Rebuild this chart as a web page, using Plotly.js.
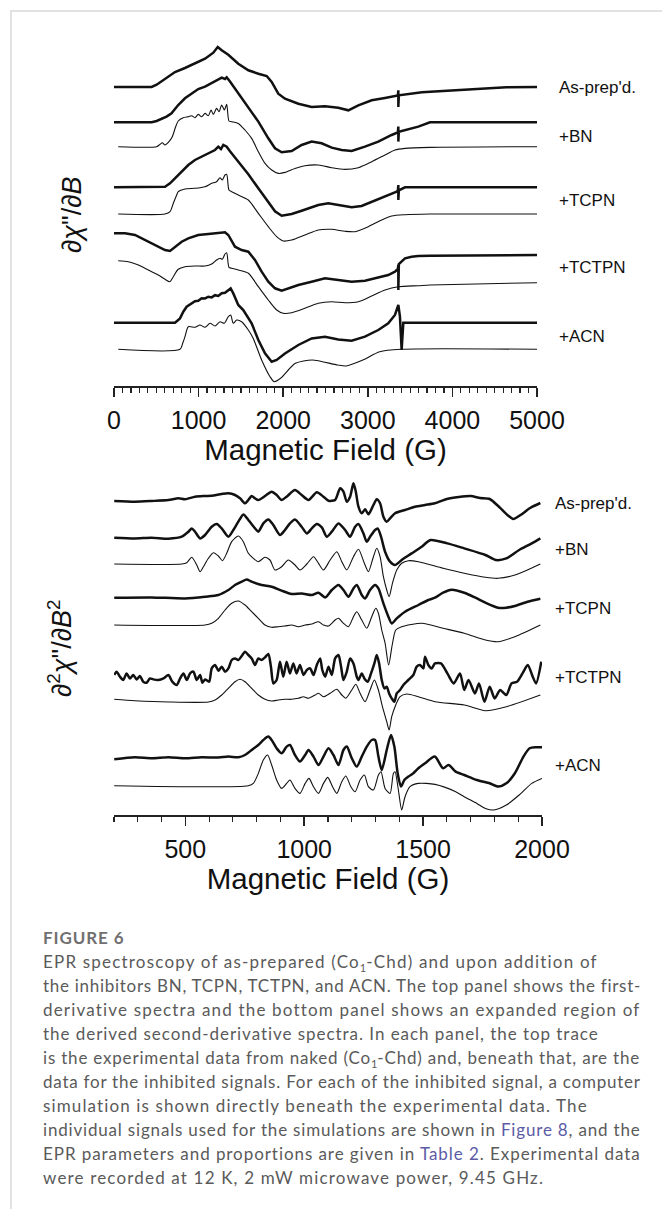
<!DOCTYPE html>
<html>
<head>
<meta charset="utf-8">
<script src="https://cdn.plot.ly/plotly-3.0.1.min.js"></script>
<style>
html,body{margin:0;padding:0;background:#fff;}
#wrap{position:relative;width:662px;height:1209px;overflow:hidden;background:#fff;}
#frame{position:absolute;left:10px;top:10px;right:-5px;bottom:-5px;border-top:2px solid #e2e2e2;border-left:2px solid #e2e2e2;}
#chart{position:absolute;left:0;top:0;width:662px;height:1209px;}
#cap{position:absolute;left:43px;top:926px;width:600px;font-family:Lato,"Noto Sans",sans-serif;color:#5a5a5a;}
#cap .fig{font-size:17px;font-weight:700;color:#707070;line-height:24px;letter-spacing:0.9px;}
#cap .ln{font-size:17px;line-height:24px;height:24px;white-space:nowrap;}
#cap .ln span{display:inline-block;}
#cap a{color:#5b5ba6;text-decoration:none;}
#cap .sb{font-size:11px;position:relative;top:4px;letter-spacing:0;}
</style>
</head>
<body>
<div id="wrap">
<div id="frame"></div>
<div id="chart"></div>
<div id="cap">
<div class="fig">FIGURE 6</div>
<div class="ln" data-w="555"><span>EPR spectroscopy of as-prepared (Co<span class="sb">1</span>-Chd) and upon addition of</span></div>
<div class="ln" data-w="597"><span>the inhibitors BN, TCPN, TCTPN, and ACN. The top panel shows the first-</span></div>
<div class="ln" data-w="596"><span>derivative spectra and the bottom panel shows an expanded region of</span></div>
<div class="ln" data-w="555"><span>the derived second-derivative spectra. In each panel, the top trace</span></div>
<div class="ln" data-w="597"><span>is the experimental data from naked (Co<span class="sb">1</span>-Chd) and, beneath that, are the</span></div>
<div class="ln" data-w="597"><span>data for the inhibited signals. For each of the inhibited signal, a computer</span></div>
<div class="ln" data-w="544"><span>simulation is shown directly beneath the experimental data. The</span></div>
<div class="ln" data-w="597"><span>individual signals used for the simulations are shown in <a>Figure 8</a>, and the</span></div>
<div class="ln" data-w="597"><span>EPR parameters and proportions are given in <a>Table 2</a>. Experimental data</span></div>
<div class="ln" data-w="500"><span>were recorded at 12 K, 2 mW microwave power, 9.45 GHz.</span></div>
</div>
</div>
<script>
// ---------- sample names ----------
const sampleLabels = ["As-prep'd.", "+BN", "+TCPN", "+TCTPN", "+ACN"];

// ---------- TOP PANEL: first derivative, field (G) and intensity (arb.) ----------
const topG_asprep = [0,445,504,603,721,839,957,1076,1174,1226,1273,1351,1469,1588,1706,1805,1864,1942,2021,2179,2336,2494,2651,2770,2888,3046,3203,3355,3361,3361,3367,3640,4139,4638,5000];
const topI_asprep = [0,0,2.3,8.3,15,19,23.3,28.3,34.3,40,36.7,32.3,23.3,16.7,13.3,11,5,-6.7,-11.7,-16.7,-20,-19.3,-20.7,-23.3,-18.3,-13.3,-11,-8.5,-3.3,-20,-8.3,-5.3,-2.7,-0.3,0];

const topG_bnExp = [0,445,504,562,621,680,759,839,918,996,1076,1155,1233,1273,1312,1332,1371,1469,1588,1706,1824,1903,1982,2100,2218,2336,2454,2573,2691,2809,2966,3124,3282,3355,3361,3361,3367,3597,3735,5000];
const topI_bnExp = [0,0,1.3,3.3,5.7,9,17.3,24,29,33.3,35.7,39,42.3,44.7,43.3,45,40.7,29,15.7,0.7,-16,-26,-30,-28.7,-22.7,-19.3,-21,-25.3,-27.7,-28.7,-24.3,-19.3,-12.7,-10,-4.3,-19.3,-9.5,-4.3,0,0];

const topG_bnSim = [50,504,543,571,603,642,689,729,759,818,878,918,957,996,1036,1076,1115,1147,1174,1213,1241,1273,1304,1332,1359,1391,1469,1548,1627,1706,1785,1864,1942,2021,2139,2257,2415,2573,2730,2888,3046,3203,3321,3440,3735,5000];
const topI_bnSim = [0,0,2.3,4,1.7,4.3,10,20,25.7,29,30,31,29,32.3,30,33.3,31,36.7,32.3,38.3,35,41.7,36.7,42.3,25.7,25,23.3,16.7,8.3,-5,-16.7,-23.3,-26.7,-25.7,-21.7,-19,-18.3,-21,-22.7,-21,-15,-8.3,-3.3,-1.7,-0.7,0];

const topG_tcpnExp = [0,603,662,721,800,878,957,1036,1115,1194,1233,1265,1292,1332,1371,1469,1588,1706,1824,1903,1982,2100,2218,2415,2533,2651,2809,2927,3046,3203,3341,3355,3361,3361,3367,3440,5000];
const topI_tcpnExp = [0,0.6,4,9,15.6,22.3,27.3,30.6,34,37.3,40.6,38.3,42.3,40.6,36,26,13,-1,-15,-24,-28.4,-26.7,-23.4,-17.7,-16,-17.4,-20,-18.7,-14.7,-9.4,-4.4,-3.5,2.3,-12.7,-3,0,0];

const topG_tcpnSim = [50,603,662,701,741,759,839,957,1076,1155,1213,1253,1280,1312,1332,1359,1391,1469,1588,1706,1824,1923,2001,2100,2257,2415,2573,2730,2848,3006,3163,3282,3440,3735,5000];
const topI_tcpnSim = [0,0,2.3,10.7,19,22.3,25,25.7,27.3,30.7,32.3,36.3,34,39,39.7,24,22.3,19,14,0.7,-12.7,-22.7,-27,-26,-21,-16,-15.3,-17.3,-17.7,-12.7,-6,-2,-0.7,0,0];

const topG_tctpnExp = [0,130,248,366,484,603,662,721,800,878,996,1115,1233,1312,1351,1430,1509,1588,1666,1745,1824,1903,1982,2060,2179,2336,2494,2651,2809,2966,3124,3242,3321,3355,3361,3361,3367,3440,3518,3597,3735,5000];
const topI_tctpnExp = [0.7,0.7,-1,-6,-11,-16,-17,-12.7,-7.7,-4.3,-1,0,0.7,1.7,-1,-12.7,-16,-17.7,-26,-37.7,-47.7,-54.3,-56.7,-54.3,-51,-47.7,-44.3,-46,-47.7,-46.7,-43.3,-41,-37.7,-35,-31,-56,-30,-24.3,-22.7,-22,-21.7,-21];

const topG_tctpnSim = [50,169,288,406,524,603,662,701,759,839,957,1076,1155,1213,1253,1280,1312,1332,1359,1391,1469,1588,1706,1824,1923,2001,2100,2257,2415,2573,2730,2888,3046,3203,3361,3597,3735,5000];
const topI_tctpnSim = [1.3,0.3,-3,-8,-13,-17.3,-19.7,-14.7,-7.3,-4.7,-4,-4,-2,2,3.7,2.7,8,9.3,-5.3,-6.3,-8,-11.3,-24.7,-38,-48,-51.3,-50.7,-46.3,-41.3,-39.7,-40.7,-39.7,-34,-28,-24.7,-23.7,-23,-20.7];

const topG_acnExp = [0,721,780,819,859,918,957,996,1036,1076,1115,1155,1194,1233,1273,1312,1351,1379,1410,1469,1528,1627,1706,1785,1864,1923,2021,2179,2336,2494,2651,2809,2966,3124,3242,3321,3361,3380,3400,3420,3735,5000];
const topI_acnExp = [0,0,4.3,11,16,19.3,21.5,22,24.5,24.3,26,25.3,27.5,26.7,29.5,30,32.7,34.3,29.3,17.7,12.7,-0.7,-17.3,-30.7,-39,-37.3,-30.7,-22.3,-15.7,-14,-16.7,-18,-14,-7.3,-0.7,7.7,17.7,6,-27.3,0,0,0];

const topG_acnSim = [50,780,812,839,878,957,1016,1076,1135,1194,1253,1304,1351,1379,1410,1450,1509,1588,1645,1745,1844,1894,1969,2144,2343,2643,2742,2942,3141,3390,5000];
const topI_acnSim = [0,0,6,12.6,22.6,22,24.3,22,26,23.3,27.6,26,32.6,34.3,26,29.3,27.6,19.3,11,-10.7,-27.4,-32.4,-29,-14,-10.7,-15.7,-16.7,-10.7,-2.4,0,0];

// stacking offsets of the top panel traces (arb. units)
const topOffsets = [299, 263.7, 239.3, 198.7, 172, 152, 124, 63.3, 36.7];

// ---------- BOTTOM PANEL: second derivative, expanded 200-2000 G ----------
const botG_asprep = [201,288,358,429,471,499,541,583,611,653,681,709,730,751,765,779,793,807,835,863,884,905,926,961,989,1018,1053,1081,1102,1130,1151,1165,1179,1193,1207,1217,1228,1242,1256,1270,1291,1305,1319,1333,1347,1361,1382,1424,1466,1508,1550,1600,1650,1700,1740,1780,1820,1860,1880,1910,1950,1993];
const botI_asprep = [0,-0.7,0,1,2.7,1.7,4.3,5,5.3,7,7.7,6,2.7,-2.3,1,5,2.7,1,5,9.3,6,1,4.3,11,6,1,8.7,4.3,0.3,1,12.7,9.3,-0.7,4.3,17.7,9.3,-5.7,-12.3,-8.3,-13.3,-4,1.7,-2.3,-15.7,-20.7,-17.3,-12.3,-9,-5.7,-4,-2.3,2,4,5,3,2,-6,-15,-18,-14,-7,-2];

const botG_bnExp = [201,288,358,429,485,513,527,541,562,583,611,632,653,681,702,723,744,765,793,807,828,849,870,898,919,940,961,989,1011,1032,1053,1074,1095,1116,1144,1172,1193,1214,1228,1249,1263,1277,1298,1309,1323,1340,1361,1382,1410,1452,1494,1531,1602,1673,1762,1806,1850,1904,1957,1993];
const botI_bnExp = [0,-0.7,0,-1,1,6,9.3,6,-0.7,2.7,11,13.7,9.3,1,7.7,16,23.3,17.7,9.3,6,14.3,18.3,12.7,2.7,7.7,14.3,18.3,11,4.3,9.3,13.7,10.3,1,6,14.3,7.7,1,11,13.7,4.3,-4,1,7.7,9.3,1,-14,-24,-27.3,-22.3,-15.7,-9,-2.3,-5.7,-10.7,-17.3,-22.3,-20.7,-12.3,-5.7,-0.7];

const botG_bnSim = [201,485,506,527,548,562,576,597,618,639,656,674,695,723,744,765,786,807,835,856,877,905,933,961,982,1011,1039,1060,1081,1109,1137,1158,1179,1207,1228,1253,1270,1291,1305,1319,1333,1347,1357,1371,1389,1410,1438,1480,1584,1673,1762,1815,1886,1993];
const botI_bnSim = [0,0,1.3,6.7,-1,-7.7,-2.7,5.7,11.3,8,3.3,10.7,22.3,28,22.3,10.7,5.7,2.3,6.7,4,-6,-2.7,4,-1,-6,0,7.3,0.7,-6,4,12.3,2.3,-6,7.3,14.7,0.7,-7.7,7.3,15.7,7.3,-12.7,-26,-32.7,-19.3,-6,0.7,3.3,2.3,-4.3,-9.3,-13.3,-14.3,-11,0];

const botG_tcpnExp = [201,358,499,583,639,681,709,737,758,779,821,863,905,947,989,1032,1060,1088,1116,1144,1165,1186,1207,1221,1242,1256,1277,1298,1312,1333,1354,1368,1389,1424,1480,1522,1550,1584,1620,1673,1720,1762,1815,1850,1886,1940,1993];
const botI_tcpnExp = [0,0.3,-0.7,1,2.7,7.7,12.7,16,18.3,16,12.7,11,7,3.7,4.3,2.7,5,0.3,7.7,12.7,7.7,1,9.3,12.7,2.7,-0.7,7.7,12.7,9.3,-5.7,-19,-25.7,-20.7,-14,-7.3,-2.3,0,5,8,5,0,-5,-10,-10,-8.3,-4,-1];

const botG_tcpnSim = [201,583,611,639,667,695,723,751,779,807,835,863,891,919,947,975,1004,1032,1060,1081,1102,1130,1144,1165,1186,1207,1221,1242,1263,1284,1301,1312,1326,1340,1355,1370,1385,1410,1495,1584,1673,1762,1815,1886,1993];
const botI_tcpnSim = [0,0,1.7,6.7,15,21.7,24,20,13.3,6.7,0,-2.3,-1.7,-1,0,-1.7,0,1,3.3,0,-1,5,6.7,1.7,-1.7,8.3,13.3,5,-3.3,8.3,16.7,11.7,-5,-18,-40,-20,-5,-1.7,1.7,-3.3,-8.3,-15,-16.7,-11.7,0];

const botG_tctpnExp = [201,211,225,239,253,267,281,295,309,323, 337,351,365,387,408,429,445,464,478,492, 506,520,534,548,562,572,583,600,611,625, 639,653,667,681,695,709,723,737,751,765, 779,793,807,821,835,849,860,870,884,898, 912,926,940,954,968,982,997,1011,1025,1039, 1053,1067,1076,1088,1102,1116,1130,1144,1155,1165, 1179,1193,1207,1221,1228,1242,1253,1267,1281,1295, 1305,1315,1326,1337,1347,1357,1368,1379,1389,1403, 1417,1438,1459,1473,1487,1501,1508,1522,1536,1550, 1575,1602,1629,1655,1673,1691,1718,1735,1758,1780,1801,1824,1850,1872,1895,1918,1940,1961,1975,1997];
const botI_tctpnExp = [1.7,5,0,-3.3,3.3,-1.7,1.7,-2.7,0.7,-5, -6,-1.7,-2.7,-3.3,-1.7,1.7,-5,-8.3,-1.7,3.3, -3.3,3.3,5,-3.3,1.7,-6,-2.7,-5,8.3,11.7, 6,10,5,8.3,16.7,18.3,16.7,20.7,25,21.7, 18.3,11.7,18.3,16.7,19.3,22.7,10,-6.7,-3.3,15, 0,15,3.3,13.3,3.3,11.7,1.7,6.7,8.3,1.7, 11.7,18.3,6.7,0,10,1.7,18.3,21.7,10,-3.3, 5,18.3,13.3,0,-3.3,3.3,-1.7,-5,3.3,13.3, 21.7,13.3,-3.3,-11.7,-10,-16.7,-21.7,-25,-16.7,-13.3, -8.3,-3.3,1.7,10,11.7,8.3,20,11.7,8.3,13.3, 13.3,3.3,-6.7,3.3,-13.3,-3.3,-16.7,-6.7,-25,-10,-21.7,-13.3,-18.3,-6.7,-5,3.3,11.7,0,-6.7,15];

const botG_tctpnSim = [201,288,429,597,625,653,681,709,730,751,779,807,835,863,891,919,947,975,997,1018,1046,1060,1081,1109,1137,1158,1175,1200,1217,1235,1256,1277,1295,1312,1329,1347,1357,1368,1382,1403,1431,1480,1550,1673,1762,1850,1993];
const botI_tctpnSim = [0.7,-0.7,-2,-2,0,5,11.7,18.3,20.7,18.3,11.7,5,0.7,-1,0,0.7,0.7,1.7,3.3,1.7,5,6.7,3.3,6.7,10.7,5,1.7,10,15.7,6.7,-1.7,10,20,10,-6.7,-21.7,-30,-16.7,-6.7,3.3,6,3.3,-1.7,-5,-10.7,-6.7,5];

const botG_acnExp = [201,288,358,429,499,569,639,681,723,751,779,807,828,849,863,884,905,926,940,961,982,1004,1018,1039,1060,1081,1102,1123,1144,1165,1179,1200,1221,1242,1263,1284,1298,1312,1326,1347,1365,1379,1393,1407,1421,1438,1459,1480,1508,1549,1584,1607,1637,1673,1726,1780,1815,1850,1886,1922,1948,1975,2000];
const botI_acnExp = [-1,1,0,1,0,1,0.7,1.7,1,3.3,8.3,13.3,18.3,21.7,18.3,10,5,11.7,13.3,3.3,-3.3,3.3,8.3,1.7,-6.7,1.7,10,3.3,-6.7,8.3,11.7,0,-8.3,1.7,11.7,18.3,18.3,1.7,-11.7,8.3,23.3,11.7,-15,-28.3,-21.7,-18.3,-15,-10,-5,1.7,-10,-6.7,-13.3,-16.7,-21.7,-25,-28.3,-25,-15,1.7,10,11,11];

const botG_acnSim = [201,765,786,807,828,846,863,884,905,926,940,961,982,1004,1020,1039,1060,1081,1099,1119,1137,1158,1175,1196,1214,1235,1253,1270,1291,1312,1323,1340,1361,1375,1382,1396,1410,1424,1445,1480,1550,1637,1673,1726,1762,1797,1850,1904,1957,2000];
const botI_acnSim = [0,0,2.3,12.3,25.7,30.7,20.7,5.7,-2.7,2.3,5.7,-2.7,-7.7,2.3,7.3,-1,-7.7,2.3,8.3,-1,-7.7,4,9.7,-1,-6,5.7,10.7,-1,-4.3,10.7,14,-2.7,-7.7,12.3,14,-4.3,-24.3,-11,-1,2.3,1.3,-6,-11,-17.7,-22.7,-24.3,-19.3,-9.3,2.3,7.3];

const botOffsets = [314, 277.3, 251, 217.3, 190, 138.3, 115, 56.7, 29.3];

// ---------- build traces ----------
const topSeries = [
  [topG_asprep, topI_asprep, true], [topG_bnExp, topI_bnExp, true], [topG_bnSim, topI_bnSim, false],
  [topG_tcpnExp, topI_tcpnExp, true], [topG_tcpnSim, topI_tcpnSim, false],
  [topG_tctpnExp, topI_tctpnExp, true], [topG_tctpnSim, topI_tctpnSim, false],
  [topG_acnExp, topI_acnExp, true], [topG_acnSim, topI_acnSim, false]
];
const botSeries = [
  [botG_asprep, botI_asprep, true], [botG_bnExp, botI_bnExp, true], [botG_bnSim, botI_bnSim, false],
  [botG_tcpnExp, botI_tcpnExp, true], [botG_tcpnSim, botI_tcpnSim, false],
  [botG_tctpnExp, botI_tctpnExp, true], [botG_tctpnSim, botI_tctpnSim, false],
  [botG_acnExp, botI_acnExp, true], [botG_acnSim, botI_acnSim, false]
];

const data = [];
function addTraces(series, offsets, xa, ya, expSpline) {
  series.forEach((s, k) => {
    const exp = s[2];
    const spline = exp ? expSpline : true;
    data.push({
      x: s[0], y: s[1].map(v => v + offsets[k]),
      xaxis: xa, yaxis: ya, type: 'scatter', mode: 'lines',
      line: {color: '#111', width: exp ? 2.5 : 1.1, shape: spline ? 'spline' : 'linear', smoothing: 0.7},
      hoverinfo: 'skip', showlegend: false
    });
  });
}
addTraces(topSeries, topOffsets, 'x', 'y', false);
addTraces(botSeries, botOffsets, 'x2', 'y2', true);

const FONT = 'Liberation Sans, Arial, Helvetica, sans-serif';
const H = 1209, W = 662;
const axisCommon = {
  showline: true, linecolor: '#222', linewidth: 1.5, mirror: false,
  ticks: 'outside', ticklen: 9, tickwidth: 1.5, tickcolor: '#222',
  showgrid: false, zeroline: false, fixedrange: true,
  tickfont: {family: FONT, size: 25, color: '#111'},
  ticklabelstandoff: 2
};

const topLabelY = [299, 250, 186, 119, 50];
const botLabelY = [312, 266, 207, 138, 50];
const annotations = [];
sampleLabels.forEach((t, i) => {
  annotations.push({text: t, xref: 'paper', yref: 'y', x: 557 / W, y: topLabelY[i], xanchor: 'left', yanchor: 'middle', showarrow: false, font: {family: FONT, size: 17, color: '#111'}});
  annotations.push({text: t, xref: 'paper', yref: 'y2', x: 553 / W, y: botLabelY[i], xanchor: 'left', yanchor: 'middle', showarrow: false, font: {family: FONT, size: 17, color: '#111'}});
});
annotations.push({text: '∂<i>χ</i>"/∂<i>B</i>', xref: 'paper', yref: 'paper', x: 72 / W, y: 1 - 215 / H, textangle: -90, showarrow: false, xanchor: 'center', yanchor: 'middle', font: {family: FONT, size: 27, color: '#111'}});
annotations.push({text: '∂<sup>2</sup><i>χ</i>"/∂<i>B</i><sup>2</sup>', xref: 'paper', yref: 'paper', x: 60 / W, y: 1 - 648 / H, textangle: -90, showarrow: false, xanchor: 'center', yanchor: 'middle', font: {family: FONT, size: 27, color: '#111'}});

const layout = {
  width: W, height: H, margin: {l: 0, r: 0, t: 0, b: 0},
  paper_bgcolor: 'rgba(0,0,0,0)', plot_bgcolor: 'rgba(0,0,0,0)', showlegend: false,
  xaxis: Object.assign({}, axisCommon, {domain: [114 / W, 537 / W], range: [0, 5000], tick0: 0, dtick: 1000,
    minor: {dtick: 100, tick0: 0, ticks: 'outside', ticklen: 5, tickwidth: 1.2, tickcolor: '#222', showgrid: false},
    anchor: 'y', title: {text: 'Magnetic Field (G)', font: {family: FONT, size: 29.5, color: '#111'}, standoff: 5}}),
  yaxis: {domain: [1 - 386 / H, 1 - 30 / H], range: [0, 356], visible: false, fixedrange: true, anchor: 'x'},
  xaxis2: Object.assign({}, axisCommon, {domain: [114 / W, 542 / W], range: [200, 2000], tick0: 0, dtick: 500,
    minor: {dtick: 100, tick0: 0, ticks: 'outside', ticklen: 5, tickwidth: 1.2, tickcolor: '#222', showgrid: false},
    anchor: 'y2', title: {text: 'Magnetic Field (G)', font: {family: FONT, size: 29.5, color: '#111'}, standoff: 5}}),
  yaxis2: {domain: [1 - 815 / H, 1 - 470 / H], range: [0, 345], visible: false, fixedrange: true, anchor: 'x2'},
  annotations: annotations
};

Plotly.newPlot('chart', data, layout, {staticPlot: true, displayModeBar: false});

// fit each caption line to its measured width in the reference by letter spacing
function fitCaption() {
  document.querySelectorAll('#cap .ln').forEach(div => {
    const span = div.querySelector('span');
    span.style.letterSpacing = '0px';
    const natural = span.getBoundingClientRect().width;
    const n = Math.max(1, span.textContent.length - 1);
    let ls = (parseFloat(div.dataset.w) - natural) / n;
    ls = Math.max(-0.6, Math.min(1.6, ls));
    span.style.letterSpacing = ls.toFixed(3) + 'px';
  });
}
fitCaption();
if (document.fonts && document.fonts.ready) document.fonts.ready.then(fitCaption);
</script>
</body>
</html>
